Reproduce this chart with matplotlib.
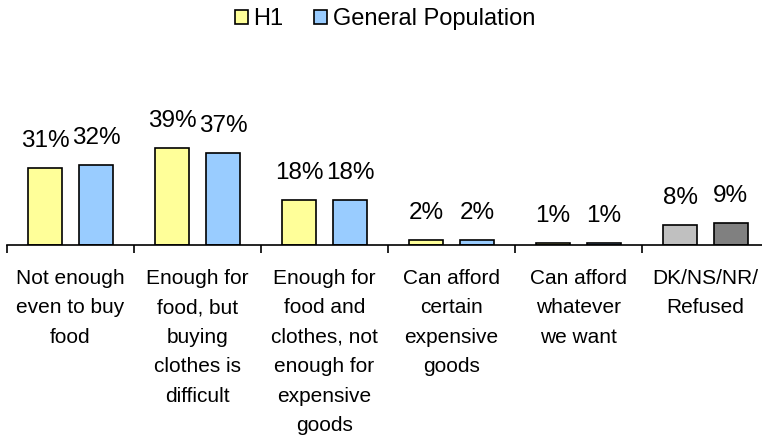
import numpy as np
import matplotlib.pyplot as plt

categories = ["Not enough\neven to buy\nfood",
              "Enough for\nfood, but\nbuying\nclothes is\ndifficult",
              "Enough for\nfood and\nclothes, not\nenough for\nexpensive\ngoods",
              "Can afford\ncertain\nexpensive\ngoods",
              "Can afford\nwhatever\nwe want",
              "DK/NS/NR/\nRefused"]
h1 = [31, 39, 18, 2, 1, 8]
general = [32, 37, 18, 2, 1, 9]

h1_colors = ["#FFFF99"] * 5 + ["#C0C0C0"]
gen_colors = ["#99CCFF"] * 5 + ["#808080"]

plt.rcParams['font.family'] = ['Liberation Sans', 'DejaVu Sans']

fig = plt.figure(figsize=(7.62, 4.37), dpi=100)
ax = fig.add_axes([7 / 762, 1 - 245 / 437, 762 / 762, 150 / 437])

x = np.arange(len(categories))
w = 0.27
b1 = ax.bar(x - 0.2, h1, w, color=h1_colors, edgecolor='black', linewidth=1.2, label="H1")
b2 = ax.bar(x + 0.2, general, w, color=gen_colors, edgecolor='black', linewidth=1.2,
            label="General Population")

for bars, vals in ((b1, h1), (b2, general)):
    for rect, v in zip(bars, vals):
        ax.annotate("%d%%" % v, (rect.get_x() + rect.get_width() / 2, v),
                    xytext=(0, 15), textcoords='offset points',
                    ha='center', va='baseline', fontsize=17.5)

ax.set_xlim(-0.5, len(categories) - 0.5)
ax.set_ylim(0, 60)
for s in ['top', 'right', 'left']:
    ax.spines[s].set_visible(False)
ax.spines['bottom'].set_linewidth(1.2)
ax.set_yticks([])

ax.set_xticks(x)
ax.set_xticklabels(categories, fontsize=15, linespacing=1.7, va='top')
ax.tick_params(axis='x', which='major', length=0, pad=17)
ax.set_xticks(np.arange(len(categories) + 1) - 0.5, minor=True)
ax.tick_params(axis='x', which='minor', length=6, width=1.2, direction='out')

h1_patch = plt.Rectangle((0, 0), 1, 1, facecolor="#FFFF99", edgecolor='black', linewidth=1.2)
gen_patch = plt.Rectangle((0, 0), 1, 1, facecolor="#99CCFF", edgecolor='black', linewidth=1.2)
fig.legend([h1_patch, gen_patch], ["H1", "General Population"], loc='center',
           bbox_to_anchor=(385 / 762, 1 - 19 / 437), ncol=2, frameon=False,
           fontsize=17, handlelength=0.55, handleheight=0.55, handletextpad=0.25,
           columnspacing=1.3)

fig.savefig("out.png", dpi=100)
